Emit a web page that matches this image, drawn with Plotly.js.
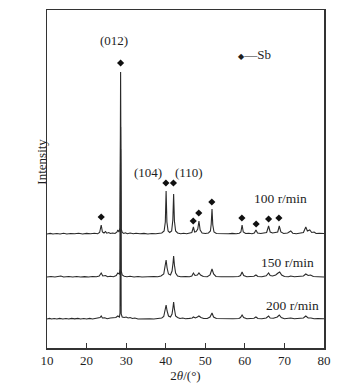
<!DOCTYPE html>
<html><head><meta charset="utf-8">
<script src="https://cdn.plot.ly/plotly-3.0.1.min.js"></script>
<style>html,body{margin:0;padding:0;background:#fff}#chart{width:360px;height:386px}</style>
</head><body><div id="chart"></div>
<script>
// XRD patterns, [2theta, relative intensity]
const pattern100 = [[10,0],[10.8,0.6],[11.5,0],[12.5,0.5],[13.3,0],[14.2,0.7],[15,0],[16,0.5],[17,0.2],[18,0.8],[19,0],[20,0.6],[21,0.2],[22,0.7],[22.8,0.3],
[23.3,1.5],[23.7,9],[24.0,2],[24.4,1],[24.8,2.5],[25.1,0.8],[25.6,1.5],[26.0,0.5],[26.6,1],[27.2,0.5],[27.7,2],[27.9,4],[28.2,2],[28.45,6],[28.6,162],[28.75,5],[29.0,1.5],[29.4,0.5],[29.8,1.2],[30.3,0.3],[31,1],[31.8,0.3],[32.5,0.8],[33.5,0.2],[34.5,0.6],[35.5,0],[36.5,0.5],[37.5,0.2],[38.3,1],[39.0,1],[39.6,3],[39.9,12],[40.1,43],[40.3,12],[40.6,3],[41.0,1.5],[41.5,3],[41.8,14],[42.0,40],[42.2,13],[42.5,3],[43.0,1],[43.8,0.3],[44.5,0.7],[45.3,0.2],[46.0,0.8],[46.6,1.5],[47.0,7],[47.3,2],[47.7,2.5],[48.1,5],[48.4,13],[48.7,4],[49.2,1],[50.0,0.5],[50.8,1],[51.3,3],[51.5,10],[51.7,25],[51.9,9],[52.2,2],[52.8,0.5],[53.8,0.3],[54.8,0.7],[55.8,0.2],[56.8,0.6],[57.8,0.2],[58.6,0.8],[59.0,2],[59.3,9],[59.6,2],[60.2,0.5],[61.0,0.8],[61.8,0.3],[62.4,1],[62.8,4],[63.2,1],[64.0,0.5],[64.8,0.8],[65.5,1.5],[66.0,8],[66.4,2],[67.0,1],[67.6,1.2],[68.3,2],[68.7,8],[69.1,2],[69.8,0.5],[70.8,1],[71.6,3],[72.1,0.8],[73.0,0.3],[74.0,0.8],[74.8,1.5],[75.4,7],[75.8,3],[76.4,4],[76.9,1.5],[77.5,2],[78.0,0.5],[78.8,0.8],[79.5,0.2],[80,0.5]];

const pattern150 = [[10,0],[11,0.5],[12,0],[12.8,0.6],[13.5,1],[14.2,0],[15.5,0.5],[16.5,0],[17.5,0.5],[18.5,0],[19.5,0.4],[20.5,0],[21.5,0.5],[22.5,0.2],[23.2,1],[23.7,4],[24.1,1],[24.8,1.5],[25.3,0.3],[26,0.8],[26.8,0.3],[27.5,1.5],[27.9,4],[28.3,3],[28.45,8],[28.6,150],[28.75,6],[29.0,2],[29.5,0.8],[30.2,0.3],[31,0.8],[32,0],[33,0.5],[34,0],[35,0.3],[36,0],[37,0.5],[38,0.2],[38.8,1],[39.5,3],[39.85,10],[40.1,17],[40.35,9],[40.7,3],[41.2,2],[41.6,6],[41.85,14],[42.0,21],[42.2,12],[42.5,4],[43.0,1],[43.8,0.3],[45,0.5],[46,0.2],[46.6,1],[47.0,4],[47.4,1.5],[48.0,2],[48.4,4],[48.8,2],[49.5,0.5],[50.5,0.3],[51.2,2],[51.7,8],[52.1,3],[52.7,0.5],[54,0.3],[55.5,0],[57,0.3],[58.4,0.5],[58.9,1.5],[59.3,5],[59.7,1.5],[60.5,0.3],[61.5,0.5],[62.3,0.8],[62.8,2],[63.3,0.5],[64.3,0.3],[65.4,1.2],[66.0,4],[66.4,1.5],[67.0,1],[67.8,2],[68.4,4],[68.8,5],[69.3,2],[70,0.5],[71,0.3],[71.6,1],[72.5,0.2],[74,0.3],[74.8,1],[75.4,3],[76.0,1.5],[76.6,2],[77.3,0.5],[78.5,0.3],[79.2,0.5],[80,0]];

const pattern200 = [[10,0],[10.6,0.6],[11.2,0],[11.8,0.5],[12.5,0],[13.2,0.6],[14,0],[14.8,0.5],[15.5,0],[16.2,0.6],[17,0.1],[17.8,0.6],[18.5,0],[19.3,0.5],[20,0],[20.8,0.6],[21.5,0],[22.3,0.6],[23.0,0.5],[23.4,1.5],[23.7,3],[24.0,1],[24.6,1.2],[25.2,0.3],[26,1],[26.8,1],[27.4,1.5],[27.9,3],[28.3,2],[28.45,6],[28.6,170],[28.75,5],[29.0,2],[29.5,1.5],[30,2],[30.5,1],[31,1.5],[31.6,0.5],[32.2,1],[33,0],[34,0.3],[35,0],[36,0.3],[37,0],[37.8,0.5],[38.4,0.2],[39.0,1],[39.5,2.5],[39.85,9],[40.1,14],[40.35,8],[40.7,3],[41.2,2],[41.6,5],[41.85,12],[42.0,17],[42.2,10],[42.5,3],[43.0,1.5],[43.6,0.5],[44.3,1],[45,0.3],[46,0.6],[46.7,1],[47.0,2],[47.5,1],[48.0,2],[48.4,3],[48.9,1.5],[49.6,0.5],[50.5,0.5],[51.2,2],[51.7,6],[52.1,2],[52.8,0.5],[54,0.3],[55.5,0.5],[57,0.3],[58.5,0.5],[58.9,1.5],[59.3,4],[59.7,1.5],[60.5,0.3],[61.5,0.5],[62.3,0.8],[62.8,2],[63.3,0.5],[64.3,0.3],[65.4,1],[66.0,3],[66.4,1],[67.2,0.8],[68.2,2],[68.7,4],[69.2,1.5],[70,0.3],[71,0.5],[71.6,1],[72.5,0.2],[74,0.5],[74.8,1],[75.4,3],[76,1],[76.7,1],[77.5,0.3],[78.5,0.5],[79.3,0.2],[80,0.3]];

const seriesNames = ['100 r/min', '150 r/min', '200 r/min'];
const seriesOffsets = [114, 71, 29];

// Sb reflections marked on the 100 r/min pattern
const sbPeakX = [23.7, 28.6, 40.05, 41.95, 46.95, 48.35, 51.65, 59.25, 62.85, 66.0, 68.6];
const sbPeakH = [9, 163, 43, 43, 5, 13, 24, 8, 2, 7, 8];
const hklLabels = ['(012)', '(104)', '(110)'];
const hklX = [27.0, 35.6, 46.0];
const hklY = [308, 176, 176];

const xTicks = [10, 20, 30, 40, 50, 60, 70, 80];

const FONT = 'Liberation Serif, Times New Roman, serif';
const INK = '#1e1e1e';
const patterns = [pattern100, pattern150, pattern200];

const traces = patterns.map((p, i) => ({
  x: p.map(d => d[0]),
  y: p.map(d => d[1] + seriesOffsets[i]),
  mode: 'lines', type: 'scatter', name: seriesNames[i],
  line: {color: '#2a2a2a', width: 1.1}, hoverinfo: 'skip'
}));
traces.push({
  x: sbPeakX, y: sbPeakH.map(h => h + seriesOffsets[0] + 8),
  mode: 'markers', type: 'scatter', name: 'Sb',
  marker: {symbol: 'diamond', size: 5.5, color: '#111'}
});

const rateLabelPos = [[69.1, 150], [70.9, 86], [72.1, 43]];
const annotations = [];
hklLabels.forEach((t, i) => annotations.push({x: hklX[i], y: hklY[i], xref: 'x', yref: 'y', text: t, showarrow: false, font: {family: FONT, size: 13, color: INK}}));
seriesNames.forEach((t, i) => annotations.push({x: rateLabelPos[i][0], y: rateLabelPos[i][1], xref: 'x', yref: 'y', text: t, showarrow: false, font: {family: FONT, size: 13.5, color: INK}}));
annotations.push({x: -0.054, y: 0.55, xref: 'paper', yref: 'paper', text: 'Intensity', textangle: -90, showarrow: false, font: {family: FONT, size: 13, color: INK}});
annotations.push({x: 0.683, y: 0.896, xref: 'paper', yref: 'paper', xanchor: 'left', text: '<span style="font-family:DejaVu Sans;font-size:8px">◆</span>—Sb', showarrow: false, font: {family: FONT, size: 13, color: INK}});

const layout = {
  width: 360, height: 386,
  margin: {l: 47, r: 36, t: 10, b: 38},
  paper_bgcolor: '#fff', plot_bgcolor: '#fff',
  showlegend: false,
  xaxis: {range: [10, 80], tickvals: xTicks, ticktext: xTicks.map(String), ticks: 'inside', ticklen: 5, tickwidth: 1, tickcolor: '#333',
    showline: true, linecolor: '#333', linewidth: 1.5, mirror: true, showgrid: false, zeroline: false,
    tickfont: {family: FONT, size: 13, color: INK},
    title: {text: '2<i>θ</i>/(°)', font: {family: FONT, size: 13, color: INK}, standoff: 3}},
  yaxis: {range: [0, 338], showticklabels: false, ticks: '', showline: true, linecolor: '#333', linewidth: 1.5, mirror: true, showgrid: false, zeroline: false},
  annotations: annotations
};
Plotly.newPlot('chart', traces, layout, {staticPlot: true, displayModeBar: false});
</script>
</body></html>
